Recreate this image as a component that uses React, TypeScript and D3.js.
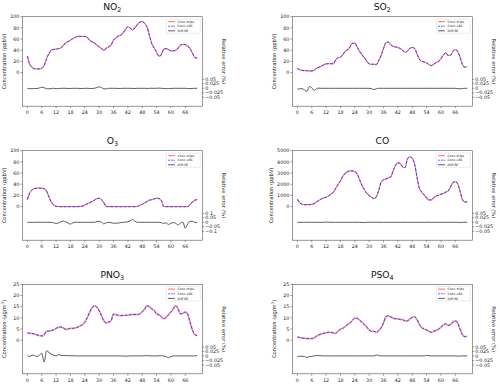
import * as d3 from "d3";
import { useEffect, useRef } from "react";

// hourly values, 0..71
const NO2 = [29.5, 14.5, 9.6, 7, 6.6, 6.6, 8, 12.6, 25, 34, 40, 41.5, 42, 43, 44, 49, 53, 55.5, 58, 61, 63, 65, 65, 64.5,
  65, 63, 58, 55, 53, 49.5, 46, 43, 40, 44, 46, 49.5, 58, 62, 65.5, 67, 71, 77, 82, 79.5, 76.5, 80.7, 86, 90,
  91.5, 88, 82, 67, 52, 44, 36.7, 29.5, 32, 42, 43, 41.5, 39, 39, 40, 44, 49, 50.5, 50, 47.5, 43, 35, 27, 26];
const SO2 = [8, 5, 4, 3.6, 3.6, 3, 3, 4, 8, 9.6, 11.5, 14, 15.7, 16, 16, 15.7, 23, 26.5, 27.7, 32.5, 38, 41, 46, 52.4,
  53, 46, 38, 32, 26.5, 21, 15.7, 15, 15, 14.5, 21.7, 30.7, 42.8, 53.6, 54.8, 50, 47, 46, 45, 43, 40, 36, 38.5, 43.4,
  45, 43.4, 33.7, 24, 20.5, 19, 17.5, 14.5, 12.7, 15, 18, 20, 25, 31, 35.5, 31, 31, 38, 41, 38, 27.7, 14.5, 9.6, 11];
const O3 = [12.6, 24.7, 30, 32.5, 33, 33, 33, 32, 27.7, 17.5, 8, 3, 0.6, 0.2, 0, 0, 0, 0, 0, 0, 0, 0, 0.3, 1,
  3, 5, 7, 9, 11.5, 14, 15, 12.6, 6.6, 0.3, 0, 0, 0, 0, 0, 0, 0, 0, 0, 0, 0, 0, 0.5, 2.4,
  4.2, 6.6, 9, 11.5, 12.6, 14, 15, 14.5, 11, 0.6, 0, 0, 0, 0, 0, 0, 0, 0, 0, 0, 3.6, 8.4, 11.5, 12.6];
const CO = [660, 330, 210, 180, 180, 180, 210, 270, 420, 570, 690, 780, 840, 960, 1110, 1300, 1630, 1990, 2290, 2710, 2980, 3130, 3190, 3190,
  3130, 2920, 2410, 1900, 1510, 1200, 990, 840, 720, 900, 1450, 2170, 2410, 2470, 2560, 2650, 3190, 3700, 3920, 3860, 3550, 3490, 4250, 4460,
  4340, 3800, 2650, 1630, 1300, 1050, 780, 600, 600, 810, 960, 1020, 1110, 1170, 1300, 1390, 1750, 2140, 2230, 2050, 1390, 630, 420, 420];
const PNO3 = [3.25, 3.1, 3, 2.7, 2.4, 2.1, 1.9, 2.4, 4, 4.1, 4.3, 4.7, 5.3, 5.8, 5.9, 5.5, 4.9, 5, 5.3, 5.3, 5.5, 5.8, 6.4, 7,
  8, 10, 12.4, 14.5, 15.4, 14.8, 13.2, 10.9, 8.6, 7.8, 8.1, 8.7, 11.7, 11.4, 11.1, 11, 11.1, 11.1, 11.2, 11.4, 11.5, 11.5, 11.5, 11.8,
  12.7, 13.9, 15.5, 15, 14, 13.3, 11.8, 11.4, 10.4, 9.6, 10.2, 11.4, 12.6, 14, 15.5, 14, 11.8, 12, 12.6, 11.7, 8.1, 4.6, 2.5, 2.1];
const PSO4 = [1.5, 1.2, 1, 0.9, 0.75, 0.75, 0.75, 1, 1.9, 2.4, 2.8, 3.1, 3.4, 3.55, 3.55, 3.25, 3.1, 4.1, 4.9, 5.3, 6.2, 7, 7.7, 8.9,
  9.9, 9.8, 9, 8, 7, 5.9, 4.6, 4, 4, 3.5, 4.3, 5.6, 7.7, 10.5, 10.9, 10.4, 9.9, 9.6, 9.5, 9.3, 9.2, 8.6, 8.7, 9.5,
  10.2, 10.4, 9.3, 7.1, 5.6, 5, 4.6, 4, 3.55, 4, 4.4, 4.9, 5.8, 6.8, 7.4, 6.6, 7, 8.1, 8.6, 7.7, 5, 2.4, 1.6, 1.9];

// relative error (%)
const NO2_RE = [0, -0.002, -0.002, -0.001, -0.001, 0.002, 0.006, 0.003, -0.002, -0.003, -0.001, 0, -0.002, -0.002, 0, 0, 0, -0.001, -0.001, 0, 0, 0, -0.001, -0.001,
  0, 0, -0.001, -0.001, 0, 0.004, 0.008, 0.004, -0.003, -0.003, 0, 0, 0, 0, -0.001, -0.001, 0, 0, 0, 0, -0.001, -0.001, 0, 0,
  0, 0, -0.001, 0, 0, 0, 0, 0.001, 0, -0.001, -0.002, -0.002, -0.001, 0, 0, 0, 0, 0, 0, -0.001, -0.002, -0.001, 0, 0];
const SO2_RE = [-0.004, -0.003, -0.002, -0.01, -0.017, 0.01, 0.003, -0.012, -0.002, 0.001, 0, 0, 0, 0, 0, 0, 0, 0, 0, 0, 0, 0, 0, 0,
  0, 0, 0, 0, 0, 0, 0, -0.002, -0.007, -0.003, 0, 0, 0, 0, 0, 0, 0, 0, 0, 0, 0, 0, 0, 0,
  0, 0, 0, 0, 0, 0, 0, 0, 0, 0, 0, 0, 0, 0, 0, 0, 0, 0, 0, -0.002, -0.003, -0.001, 0, 0];
const O3_RE = [0, 0, 0, 0, 0, 0.002, 0, 0, 0, 0, 0, -0.005, -0.013, -0.008, 0.005, 0.013, 0.006, -0.008, -0.02, -0.006, 0, 0, 0, 0,
  0, 0, 0, 0, 0, 0.008, 0.01, 0.002, -0.018, -0.004, 0, -0.004, -0.01, -0.01, -0.008, -0.004, 0, 0.002, 0.005, 0.018, 0.03, 0.012, 0, 0,
  0, 0, 0, 0, 0, 0, 0, 0, -0.004, -0.012, -0.006, -0.024, -0.01, -0.004, -0.01, -0.028, -0.01, 0.002, -0.065, -0.02, 0.012, 0.01, 0, -0.005];
const CO_RE = [0, 0, 0, 0, 0, 0, 0, 0, 0, 0, 0, 0, 0.001, 0.001, 0, 0, 0, 0, 0, 0, 0, 0, 0, 0,
  0, 0, 0, -0.001, -0.001, 0, 0, 0, 0, 0.001, 0, 0, 0, 0, 0, 0, 0, 0, 0, 0, 0, 0, 0, 0,
  0, 0, 0, 0, 0, 0, 0, 0.001, 0, 0, 0, 0, 0, 0, 0, 0, 0, 0, 0, 0, -0.001, 0, 0, 0];
const PNO3_RE = [0, -0.003, 0.004, 0.002, -0.004, 0.004, 0.014, -0.034, 0.028, 0.02, 0.01, 0.004, 0, 0.007, 0.003, 0.002, 0.002, 0.001, 0.001, 0.001, 0, 0, 0, 0,
  0, 0, 0, 0, 0, 0, 0, 0, 0, 0, 0, 0, 0, 0, 0, 0, -0.001, -0.001, -0.001, 0, 0, 0, 0, 0,
  0, 0.001, 0.001, 0.001, 0, 0, 0, 0.001, 0.001, 0, -0.004, -0.01, -0.004, 0, 0, 0, 0, 0, 0, 0, 0, 0, 0, 0.002];
const PSO4_RE = [-0.003, -0.002, -0.002, -0.004, -0.008, -0.004, -0.003, 0, 0.002, 0.002, 0.001, 0, 0, 0, 0, 0, 0, 0, 0, 0, 0, 0, 0, 0,
  0, 0, 0, 0, 0, 0, 0, 0, 0, 0.005, 0.002, 0, 0, 0, 0, 0, 0, 0, 0, 0, 0, 0, 0, 0,
  0, 0, 0, 0, 0, 0, 0.003, 0.001, 0, 0, 0, 0, 0, 0, 0, 0, 0, 0, 0, -0.001, -0.001, 0, 0, 0];

const xTicks = d3.range(0, 67, 6);
const legendLabels = ["Conc.mips", "Conc.x86", "Diff.RE"];

const panels = [
  { name: "NO", sub: "2", unit: "ppbV", conc: NO2, re: NO2_RE, yMax: 100, yStep: 20, reMax: 0.4, reTicks: [-0.05, -0.025, 0, 0.025, 0.05] },
  { name: "SO", sub: "2", unit: "ppbV", conc: SO2, re: SO2_RE, yMax: 100, yStep: 20, reMax: 0.4, reTicks: [-0.05, -0.025, 0, 0.025, 0.05] },
  { name: "O", sub: "3", unit: "ppbV", conc: O3, re: O3_RE, yMax: 100, yStep: 20, reMax: 0.8, reTicks: [-0.1, -0.05, 0, 0.05, 0.1] },
  { name: "CO", sub: "", unit: "ppbV", conc: CO, re: CO_RE, yMax: 5000, yStep: 1000, reMax: 0.4, reTicks: [-0.05, -0.025, 0, 0.025, 0.05] },
  { name: "PNO", sub: "3", unit: "ug", conc: PNO3, re: PNO3_RE, yMax: 25, yStep: 5, reMax: 0.4, reTicks: [-0.05, -0.025, 0, 0.025, 0.05] },
  { name: "PSO", sub: "4", unit: "ug", conc: PSO4, re: PSO4_RE, yMax: 25, yStep: 5, reMax: 0.4, reTicks: [-0.05, -0.025, 0, 0.025, 0.05] },
];

const colX = [22.3, 292.3];
const rowY = [16.7, 150.7, 284.3];
const W = 180, H = 89.5;
const FONT = "DejaVu Sans, sans-serif";

const fmtRe = (v: number) => (v === 0 ? "0" : String(v).replace("-", "\u2212"));

export default function App() {
  const ref = useRef<SVGSVGElement>(null);

  useEffect(() => {
    const svg = d3.select(ref.current);
    svg.selectAll("*").remove();

    panels.forEach((p, i) => {
      const x0 = colX[i % 2], y0 = rowY[Math.floor(i / 2)];
      const hours = p.conc.map((_, k) => k);
      const g = svg.append("g").attr("transform", `translate(${x0},${y0})`)
        .style("font-family", FONT);

      const x = d3.scaleLinear().domain([-2.13, 73.13]).range([0, W]);
      const y = d3.scaleLinear().domain([-0.6 * p.yMax, p.yMax]).range([H, 0]);
      const yr = d3.scaleLinear().domain([p.reMax === 0.8 ? -0.2 : -0.1, p.reMax]).range([H, 0]);

      // title
      const t = g.append("text").attr("x", W / 2).attr("y", -6.3)
        .attr("text-anchor", "middle").attr("font-size", 9.2).attr("font-weight", "normal").attr("fill", "#111");
      t.append("tspan").text(p.name);
      if (p.sub) t.append("tspan").attr("dy", 2).attr("font-size", 6.4).text(p.sub);

      // lines
      const line = d3.line<number>().x((_, k) => x(hours[k])).y(d => y(d)).curve(d3.curveMonotoneX);
      const lineRe = d3.line<number>().x((_, k) => x(hours[k])).y(d => yr(d)).curve(d3.curveMonotoneX);
      const thick = p.unit === "ug";
      g.append("path").attr("d", line(p.conc)).attr("fill", "none")
        .attr("stroke", "#ff2020").attr("stroke-opacity", thick ? 0.4 : 0.55).attr("stroke-width", thick ? 1.8 : 1.2);
      g.append("path").attr("d", line(p.conc)).attr("fill", "none")
        .attr("stroke", "#3030ff").attr("stroke-width", 0.9).attr("stroke-dasharray", "3,1.4");
      g.append("path").attr("d", lineRe(p.re)).attr("fill", "none")
        .attr("stroke", "#333").attr("stroke-width", 0.8);

      // frame
      g.append("rect").attr("width", W).attr("height", H)
        .attr("fill", "none").attr("stroke", "#555").attr("stroke-width", 0.6);

      // x axis
      const xa = g.append("g").attr("transform", `translate(0,${H})`);
      xTicks.forEach(v => {
        xa.append("line").attr("x1", x(v)).attr("x2", x(v)).attr("y1", 0).attr("y2", 2)
          .attr("stroke", "#444").attr("stroke-width", 0.5);
        xa.append("text").attr("x", x(v)).attr("y", 7.8).attr("text-anchor", "middle")
          .attr("font-size", 4.8).attr("fill", "#222").text(v);
      });

      // left axis
      d3.range(0, p.yMax + 1, p.yStep).forEach(v => {
        g.append("line").attr("x1", -2).attr("x2", 0).attr("y1", y(v)).attr("y2", y(v))
          .attr("stroke", "#444").attr("stroke-width", 0.5);
        g.append("text").attr("x", -3).attr("y", y(v)).attr("dy", "0.35em").attr("text-anchor", "end")
          .attr("font-size", 4.8).attr("fill", "#222").text(v);
      });

      // right axis
      p.reTicks.forEach(v => {
        g.append("line").attr("x1", W).attr("x2", W + 2).attr("y1", yr(v)).attr("y2", yr(v))
          .attr("stroke", "#444").attr("stroke-width", 0.5);
        g.append("text").attr("x", W + 3).attr("y", yr(v)).attr("dy", "0.35em")
          .attr("font-size", 4.8).attr("fill", "#222").text(fmtRe(v));
      });

      // axis labels
      const lx = p.yMax >= 1000 ? -19 : -16.5;
      const yl = g.append("text").attr("transform", `translate(${lx},${H / 2}) rotate(-90)`)
        .attr("text-anchor", "middle").attr("font-size", 5.2).attr("fill", "#222");
      if (p.unit === "ug") {
        yl.append("tspan").text("Concentration (\u03bcg/m");
        yl.append("tspan").attr("dy", -1.8).attr("font-size", 3.6).text("3");
        yl.append("tspan").attr("dy", 1.8).text(")");
      } else {
        yl.text("Concentration (ppbV)");
      }
      g.append("text").attr("transform", `translate(${W + 20},${H / 2}) rotate(90)`)
        .attr("text-anchor", "middle").attr("font-size", 5.2).attr("fill", "#222")
        .text("Relative error (%)");

      // legend
      const lg = g.append("g").attr("transform", `translate(${W - 36},2.3)`);
      lg.append("rect").attr("width", 34).attr("height", 14.3).attr("rx", 1)
        .attr("fill", "white").attr("fill-opacity", 0.8).attr("stroke", "#ccc").attr("stroke-width", 0.4);
      legendLabels.forEach((lab, k) => {
        const ly = 2.6 + k * 4.6;
        const l = lg.append("line").attr("x1", 1.8).attr("x2", 8.6).attr("y1", ly).attr("y2", ly);
        if (k === 0) l.attr("stroke", "#ff2020").attr("stroke-opacity", thick ? 0.4 : 0.55).attr("stroke-width", thick ? 1.8 : 1.2);
        else if (k === 1) l.attr("stroke", "#3030ff").attr("stroke-width", 0.8).attr("stroke-dasharray", "1.8,0.9");
        else l.attr("stroke", "#333").attr("stroke-width", 0.8);
        lg.append("text").attr("x", 11.3).attr("y", ly).attr("dy", "0.35em")
          .attr("font-size", 3.2).attr("fill", "#222").text(lab);
      });
    });
  }, []);

  return (
    <svg ref={ref} width={500} height={385}
      style={{ position: "absolute", left: 0, top: 0, background: "white" }} />
  );
}
